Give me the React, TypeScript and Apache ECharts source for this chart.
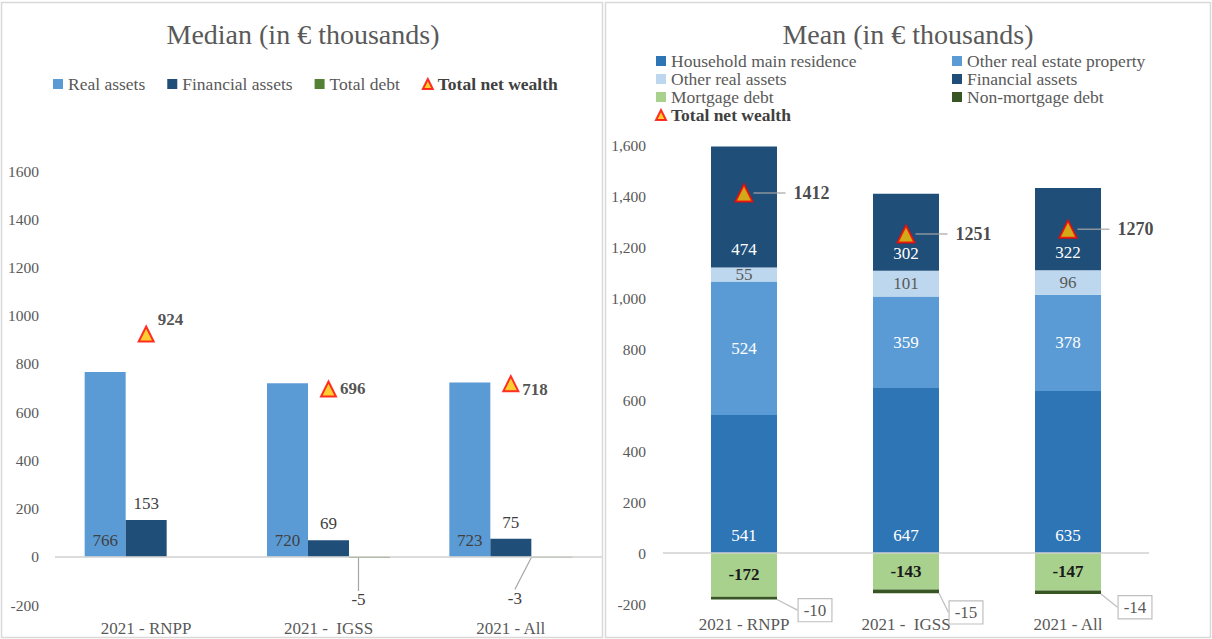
import React, { useEffect, useRef } from "react";
import * as echarts from "echarts";

const categories = ["2021 - RNPP", "2021 -  IGSS", "2021 - All"];

// Median panel
const medRealAssets = [766, 720, 723];
const medFinancialAssets = [153, 69, 75];
const medTotalDebt: (number | null)[] = [null, -5, -3];
const medNetWealth = [924, 696, 718];

// Mean panel
const meanMainResidence = [541, 647, 635];
const meanOtherRealEstate = [524, 359, 378];
const meanOtherReal = [55, 101, 96];
const meanFinancial = [474, 302, 322];
const meanMortgage = [-172, -143, -147];
const meanNonMortgage = [-10, -15, -14];
const meanNetWealth = [1412, 1251, 1270];

const yTicksMin = -200;
const yTicksMax = 1600;
const yTickStep = 200;

const FONT = "Liberation Serif";
const GRAY = "#595959";

export default function App() {
  const ref = useRef<HTMLDivElement>(null);

  useEffect(() => {
    document.body.style.margin = "0";
    const chart = echarts.init(ref.current!, undefined, { renderer: "svg" });

    const triStyle = { color: "#FFC000", borderColor: "#FF0000", borderWidth: 2 };
    const zeroLine = {
      silent: true,
      symbol: "none",
      label: { show: false },
      lineStyle: { color: "#D0D0D0", type: "solid", width: 1.5 },
      data: [{ yAxis: 0 }],
    };

    const medScatterOffsets = [[0, -14], [0, 0], [0, 6]];
    const meanBoxLayout = [
      { dx: 71, dy: 12 },
      { dx: 60, dy: 21 },
      { dx: 67, dy: 15 },
    ];
    const medDebtLayout = [
      { dx: 0, dy: 0 },
      { dx: -11, dy: 33 },
      { dx: -37, dy: 32 },
    ];

    chart.setOption({
      animation: false,
      textStyle: { fontFamily: FONT },
      graphic: [
        { type: "rect", shape: { x: 1.5, y: 2.5, width: 601, height: 635 }, style: { fill: "none", stroke: "#D9D9D9", lineWidth: 1.5 } },
        { type: "rect", shape: { x: 605.5, y: 2.5, width: 605, height: 635 }, style: { fill: "none", stroke: "#D9D9D9", lineWidth: 1.5 } },
        { type: "text", x: 303, y: 34, style: { text: "Median (in € thousands)", textAlign: "center", textVerticalAlign: "middle", fontSize: 28, fill: GRAY, fontFamily: FONT } },
        { type: "text", x: 908, y: 34, style: { text: "Mean (in € thousands)", textAlign: "center", textVerticalAlign: "middle", fontSize: 28, fill: GRAY, fontFamily: FONT } },
      ],
      legend: [
        {
          left: 48, top: 70, itemWidth: 10, itemHeight: 10, itemGap: 22, icon: "rect",
          textStyle: { fontSize: 17.5, color: GRAY, fontFamily: FONT },
          data: [
            "Real assets",
            { name: "Financial assets" },
            "Total debt",
            { name: "Total net wealth", icon: "triangle", textStyle: { fontWeight: "bold", color: "#404040" }, itemStyle: triStyle },
          ],
        },
        {
          left: 650, top: 47, orient: "vertical", itemWidth: 10, itemHeight: 10, itemGap: 0, icon: "rect",
          textStyle: { fontSize: 17.5, lineHeight: 16, color: GRAY, fontFamily: FONT },
          data: [
            "Household main residence",
            "Other real assets",
            "Mortgage debt",
            { name: "Total net wealth", icon: "triangle", textStyle: { fontWeight: "bold", color: "#404040" }, itemStyle: triStyle },
          ],
        },
        {
          left: 947, top: 47, orient: "vertical", itemWidth: 10, itemHeight: 10, itemGap: 0, icon: "rect",
          textStyle: { fontSize: 17.5, lineHeight: 16, color: GRAY, fontFamily: FONT },
          data: ["Other real estate property", "Financial assets", "Non-mortgage debt"],
        },
      ],
      grid: [
        { left: 55, width: 547, top: 171, height: 434 },
        { left: 663, width: 486, top: 145, height: 459 },
      ],
      xAxis: [0, 1].map((i) => ({
        type: "category",
        gridIndex: i,
        data: categories,
        axisLine: { show: false, onZero: false },
        axisTick: { show: false },
        axisLabel: { color: GRAY, fontSize: 17, margin: i === 0 ? 15 : 12, fontFamily: FONT },
      })),
      yAxis: [0, 1].map((i) => ({
        type: "value",
        gridIndex: i,
        min: yTicksMin,
        max: yTicksMax,
        interval: yTickStep,
        splitLine: { show: false },
        axisLine: { show: false },
        axisTick: { show: false },
        axisLabel: {
          color: GRAY, fontSize: 15.5, margin: i === 0 ? 16 : 17, fontFamily: FONT,
          formatter: (v: number) => (i === 0 ? String(v) : v.toLocaleString("en-US")),
        },
      })),
      series: [
        // ---- Median
        {
          name: "Real assets", type: "bar", xAxisIndex: 0, yAxisIndex: 0, barWidth: 41, barGap: "0%",
          data: medRealAssets, itemStyle: { color: "#5B9BD5" },
          label: { show: true, position: "insideBottom", color: "#404040", fontSize: 17, distance: 8 },
          markLine: zeroLine,
        },
        {
          name: "Financial assets", type: "bar", xAxisIndex: 0, yAxisIndex: 0, barWidth: 41, barGap: "0%",
          data: medFinancialAssets, itemStyle: { color: "#1F4E79" },
          label: { show: true, position: "top", color: "#404040", fontSize: 17, distance: 8 },
        },
        {
          name: "Total debt", type: "bar", xAxisIndex: 0, yAxisIndex: 0, barWidth: 41, barGap: "0%",
          data: medTotalDebt, itemStyle: { color: "#548235" },
          label: { show: true, position: "bottom", color: "#404040", fontSize: 17, distance: 0 },
          labelLayout: (p: any) => medDebtLayout[p.dataIndex],
          labelLine: { show: true, lineStyle: { color: "#A6A6A6", width: 1.2 } },
        },
        {
          name: "Total net wealth", type: "scatter", xAxisIndex: 0, yAxisIndex: 0,
          symbol: "triangle", symbolSize: 15, itemStyle: triStyle, z: 5,
          data: medNetWealth.map((v, i) => ({
            value: v,
            label: { offset: medScatterOffsets[i] },
          })),
          label: { show: true, position: "right", distance: 3, color: "#262626", fontWeight: "bold", fontSize: 17 },
        },
        // ---- Mean
        {
          name: "Household main residence", type: "bar", stack: "m", xAxisIndex: 1, yAxisIndex: 1, barWidth: 66,
          data: meanMainResidence, itemStyle: { color: "#2E75B6" },
          label: { show: true, position: "insideBottom", color: "#FFFFFF", fontSize: 17, distance: 9 },
          markLine: zeroLine,
        },
        {
          name: "Other real estate property", type: "bar", stack: "m", xAxisIndex: 1, yAxisIndex: 1, barWidth: 66,
          data: meanOtherRealEstate, itemStyle: { color: "#5B9BD5" },
          label: { show: true, position: "inside", color: "#FFFFFF", fontSize: 17 },
        },
        {
          name: "Other real assets", type: "bar", stack: "m", xAxisIndex: 1, yAxisIndex: 1, barWidth: 66,
          data: meanOtherReal, itemStyle: { color: "#BDD7EE" },
          label: { show: true, position: "inside", color: GRAY, fontSize: 17 },
        },
        {
          name: "Financial assets", type: "bar", stack: "m", xAxisIndex: 1, yAxisIndex: 1, barWidth: 66,
          data: meanFinancial, itemStyle: { color: "#1F4E79" },
          label: { show: true, position: "insideBottom", color: "#FFFFFF", fontSize: 17, distance: 9 },
        },
        {
          name: "Mortgage debt", type: "bar", stack: "m", xAxisIndex: 1, yAxisIndex: 1, barWidth: 66,
          data: meanMortgage, itemStyle: { color: "#A9D18E" },
          label: { show: true, position: "inside", color: "#1A1A1A", fontWeight: "bold", fontSize: 17 },
        },
        {
          name: "Non-mortgage debt", type: "bar", stack: "m", xAxisIndex: 1, yAxisIndex: 1, barWidth: 66,
          data: meanNonMortgage, itemStyle: { color: "#375623" },
          label: {
            show: true, position: "inside", color: GRAY, fontSize: 17,
            backgroundColor: "#FFFFFF", borderColor: "#BFBFBF", borderWidth: 1.2, padding: [3, 5, 2, 5],
          },
          labelLayout: (p: any) => meanBoxLayout[p.dataIndex],
          labelLine: { show: true, lineStyle: { color: "#BFBFBF", width: 1.2 } },
        },
        {
          name: "Total net wealth", type: "scatter", xAxisIndex: 1, yAxisIndex: 1,
          symbol: "triangle", symbolSize: 17, itemStyle: triStyle, z: 5,
          data: meanNetWealth,
          label: {
            show: true, position: "right", distance: 0,
            formatter: (p: any) => `{ln|}{v|${p.value}}`,
            rich: {
              ln: { width: 32, height: 1.5, backgroundColor: "#A6A6A6", verticalAlign: "middle" },
              v: { color: "#1A1A1A", fontWeight: "bold", fontSize: 18, padding: [0, 0, 0, 8], verticalAlign: "middle", fontFamily: FONT },
            },
          },
        },
      ],
    });

    return () => chart.dispose();
  }, []);

  return <div ref={ref} style={{ width: 1212, height: 639 }} />;
}
